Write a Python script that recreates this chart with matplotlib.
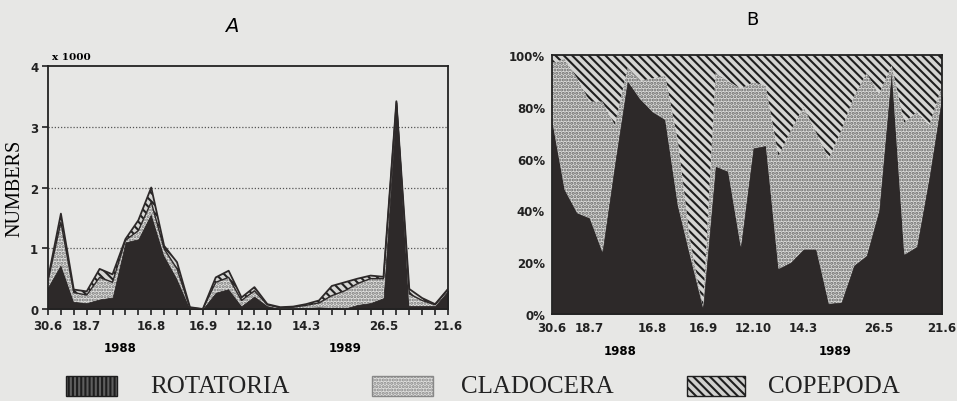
import numpy as np
import matplotlib
matplotlib.use('Agg')
import matplotlib.pyplot as plt
from matplotlib.patches import Rectangle

# sampling dates (32 samples, June 1988 - June 1989), labelled ones only
tick_pos = [0, 3, 8, 12, 16, 20, 26, 31]
tick_labels = ['30.6', '18.7', '16.8', '16.9', '12.10', '14.3', '26.5', '21.6']
years = ['1988', '1989']

# A: numbers (x 1000), layer thickness per group
rotatoria = [0.36, 0.73, 0.12, 0.10, 0.16, 0.19, 1.10, 1.15, 1.57, 0.88, 0.50, 0.01,
             0.0, 0.27, 0.33, 0.05, 0.21, 0.05, 0.005, 0.01, 0.02, 0.03, 0.02, 0.01,
             0.07, 0.10, 0.18, 3.40, 0.05, 0.05, 0.05, 0.30]
cladocera = [0.11, 0.70, 0.15, 0.13, 0.36, 0.25, 0.03, 0.14, 0.19, 0.11, 0.16, 0.01,
             0.0, 0.17, 0.19, 0.09, 0.09, 0.02, 0.015, 0.02, 0.04, 0.07, 0.20, 0.29,
             0.35, 0.40, 0.32, 0.01, 0.20, 0.09, 0.02, 0.02]
copepoda = [0.03, 0.14, 0.05, 0.06, 0.14, 0.13, 0.02, 0.17, 0.24, 0.05, 0.11, 0.01,
            0.0, 0.08, 0.11, 0.05, 0.06, 0.01, 0.01, 0.01, 0.02, 0.04, 0.16, 0.14,
            0.08, 0.05, 0.03, 0.01, 0.08, 0.04, 0.01, 0.01]

# B: percentages (copepoda = remainder up to 100 %)
rot_pct = [75, 48, 39, 37, 24, 58, 90, 83, 78, 75, 42, 22, 2.5, 57, 55, 26,
           64, 65, 17.5, 20, 25, 25, 4, 4.5, 18.7, 22.5, 40, 94, 23, 26, 53, 84]
clad_pct = [22, 50.5, 52, 45, 58, 15, 5, 7, 13, 17, 25, 6, 0, 36, 35, 61,
            25.5, 23, 43.5, 51, 55, 45, 56, 66.5, 65.3, 70.5, 45, 2, 51, 52, 20, 4]

paper = '#e7e7e5'
dark = '#2d2929'
stripes = '\\\\\\\\'
plt.rcParams['hatch.linewidth'] = 1.5

fig = plt.figure(figsize=(9.57, 4.02), dpi=100, facecolor=paper)
tickfont = dict(family='DejaVu Sans', weight='bold', size=8.5)

''' PANEL A '''
x = np.arange(len(rotatoria))
r = np.array(rotatoria)
c = r + np.array(cladocera)
t = c + np.array(copepoda)

axA = fig.add_axes([48 / 957, 92 / 402, 400 / 957, 243 / 402], facecolor=paper)
for v in [1, 2, 3]:
    axA.axhline(v, color='#555', lw=0.9, ls=(0, (1, 1.5)), zorder=0)
axA.fill_between(x, 0, r, facecolor=dark, edgecolor=dark, lw=0.6, zorder=2)
axA.fill_between(x, r, c, facecolor='#e2e2e0', edgecolor='#777', hatch='.....', lw=0, zorder=2)
axA.fill_between(x, c, t, facecolor='#d6d6d4', edgecolor='#222', hatch=stripes, lw=0, zorder=2)
axA.plot(x, c, color=dark, lw=1.0, zorder=3)
axA.plot(x, t, color=dark, lw=1.3, zorder=3)
axA.set_xlim(0, len(x) - 1)
axA.set_ylim(0, 4)
axA.set_yticks([0, 1, 2, 3, 4])
axA.set_xticks(x, minor=True)
axA.set_xticks(tick_pos)
axA.set_xticklabels(tick_labels, fontdict=tickfont)
axA.set_yticklabels(['0', '1', '2', '3', '4'], fontdict=tickfont)
axA.tick_params(which='both', direction='out', length=4, width=1.2, colors='#222', pad=3)
for s in axA.spines.values():
    s.set_linewidth(1.3)
    s.set_color('#222')
axA.set_ylabel('NUMBERS', family='Liberation Serif', fontsize=14.5, labelpad=4)
fig.text(52 / 957, 1 - 62 / 402, 'x 1000', fontsize=7.5, weight='bold', family='DejaVu Serif', va='bottom')
fig.text(232 / 957, 1 - 27 / 402, 'A', fontsize=14, style='italic', family='DejaVu Sans', ha='center', va='center')
fig.text(120 / 957, 1 - 349 / 402, years[0], ha='center', va='center', **tickfont)
fig.text(345 / 957, 1 - 349 / 402, years[1], ha='center', va='center', **tickfont)

''' PANEL B '''
pr = np.array(rot_pct)
pc = pr + np.array(clad_pct)

axB = fig.add_axes([552 / 957, 87 / 402, 390 / 957, 259 / 402], facecolor=paper)
axB.fill_between(x, 0, pr, facecolor=dark, edgecolor=dark, lw=0.5, zorder=2)
axB.fill_between(x, pr, pc, facecolor='#dcdcda', edgecolor='#666', hatch='.....', lw=0, zorder=2)
axB.fill_between(x, pc, 100, facecolor='#d4d4d2', edgecolor='#1e1e1e', hatch=stripes, lw=0, zorder=2)
axB.set_xlim(0, len(x) - 1)
axB.set_ylim(0, 100)
axB.set_yticks([0, 20, 40, 60, 80, 100])
axB.set_yticklabels(['0%', '20%', '40%', '60%', '80%', '100%'], fontdict=tickfont)
axB.set_xticks(tick_pos)
axB.set_xticklabels(tick_labels, fontdict=tickfont)
axB.tick_params(which='both', length=0, pad=5, colors='#222')
for s in axB.spines.values():
    s.set_linewidth(1.3)
    s.set_color('#222')
fig.text(752 / 957, 1 - 20 / 402, 'B', fontsize=13, family='DejaVu Sans', ha='center', va='center')
fig.text(620 / 957, 1 - 352 / 402, years[0], ha='center', va='center', **tickfont)
fig.text(835 / 957, 1 - 352 / 402, years[1], ha='center', va='center', **tickfont)

''' LEGEND '''
legend_items = [('ROTATORIA', 66, 117, 150, '#5e5e5e', '#1e1e1e', '||||'),
                ('CLADOCERA', 372, 433, 461, '#e0e0de', '#888', '.....'),
                ('COPEPODA', 687, 745, 768, '#d0d0ce', '#1e1e1e', stripes)]
for name, x0, x1, xt, fc, hc, hatch in legend_items:
    fig.add_artist(Rectangle((x0 / 957, 1 - 397 / 402), (x1 - x0) / 957, 20 / 402,
                             transform=fig.transFigure, facecolor=fc, edgecolor=hc,
                             hatch=hatch, lw=1))
    fig.text(xt / 957, 1 - 387 / 402, name, family='Liberation Serif', fontsize=18,
             va='center', ha='left', color='#222')

fig.savefig('out.png', dpi=100, facecolor=paper)
